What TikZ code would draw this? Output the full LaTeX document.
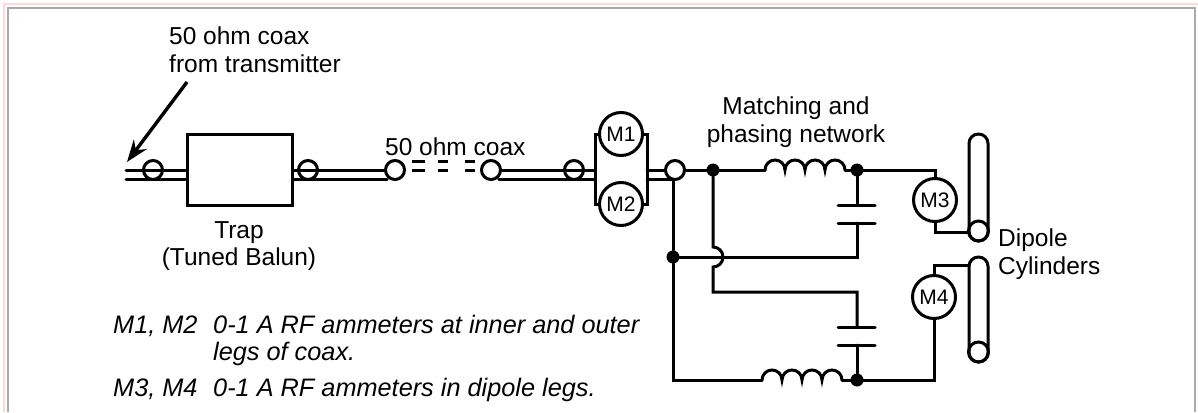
\documentclass[tikz,border=0pt]{standalone}
\usepackage{fontspec}
\setmainfont{Liberation Sans}
\usetikzlibrary{arrows.meta}

\definecolor{framepink}{RGB}{255,215,215}
\definecolor{framegray}{RGB}{170,170,170}

\begin{document}
\begin{tikzpicture}[x=1pt,y=-1pt,
    wire/.style={draw,line width=3pt,line cap=round,line join=miter},
    ring/.style={circle,draw,line width=3pt,minimum size=19pt,inner sep=0pt},
    mtr/.style={circle,draw,line width=3pt,minimum size=43pt,inner sep=0pt,
    font=\fontsize{21}{23}\selectfont},
    jdot/.style={circle,fill,minimum size=13pt,inner sep=0pt},
    lbl/.style={inner sep=0pt,align=center,font=\fontsize{24.5}{27.5}\selectfont},
    note/.style={inner sep=0pt,anchor=base west,font=\fontsize{25.3}{27}\selectfont\itshape}]
    \useasboundingbox (0,0) rectangle (1198,412);
    \fill[white] (0,0) rectangle (1198,412);
    \draw[framepink,line width=2.5pt] (4,412) -- (4,4) -- (1198,4);
    \draw[framegray,line width=2pt] (8,412) -- (8,8) -- (1195,8) -- (1195,412);

    % coax run
    \node[draw,line width=3pt,minimum width=105pt,minimum height=71pt,inner sep=0pt](trap) at (239.5,170) {};
    \node[ring](r1) at (153,170) {};
    \node[ring](r2) at (308,170) {};
    \node[ring](r3) at (395,170) {};
    \node[ring](r4) at (491,170) {};
    \node[ring](r5) at (574,170) {};
    \node[ring](r6) at (675,170) {};
    \coordinate (ca) at (126,170);
    \coordinate (cb) at (126,179);
    \coordinate (da) at (595,170);
    \coordinate (db) at (595,179);
    \coordinate (ea) at (647,170);
    \coordinate (eb) at (647,179);
    \draw[wire] (ca) -- (trap.west |- ca) (cb) -- (trap.west |- cb);
    \draw[wire] (trap.east |- ca) -- (r3.west) (trap.east |- cb) -- (r3.south west |- cb);
    \draw[wire] (r4.east) -- (da) (r4.south east |- cb) -- (db);
    \foreach \xa/\xb in {412/425,438/448,465/475}{
       \coordinate (ga) at (\xa,170);
       \coordinate (gb) at (\xb,170);
       \draw[wire,line cap=butt] (ga) -- (gb) ([yshift=9pt]ga) -- ([yshift=9pt]gb);
    }

    % meters on the legs of the coax
    \node[mtr](m1) at (621,134) {M1};
    \node[mtr](m2) at (621,204) {M2};
    \node[mtr](m3) at (935,200) {M3};
    \node[mtr](m4) at (934,297) {M4};
    \draw[wire] (m1.west) -| (da) |- (m2.west);
    \draw[wire] (m1.east) -| (ea) |- (m2.east);
    \draw[wire] (ea) -- (r6.west) (eb) -- (r6.south west |- eb);

    % matching and phasing network
    \node[jdot](j1) at (713,170) {};
    \node[jdot](j2) at (673,257) {};
    \node[jdot](j3) at (857,170) {};
    \node[jdot](j4) at (857,380) {};
    \coordinate (la) at (765,170);
    \coordinate (lb) at (845,170);
    \coordinate (lc) at (762,380);
    \coordinate (ld) at (842,380);
    \coordinate (ha) at (713,247);
    \coordinate (k1) at (713,292);
    \coordinate (k2) at (857,292);
    \coordinate (k3) at (857,257);
    \coordinate (p1) at (857,205);
    \coordinate (p2) at (857,223);
    \coordinate (p3) at (857,327);
    \coordinate (p4) at (857,345);
    \draw[wire] (r6.east) -- (j1) -- (la);
    \draw[wire] (lb) -- (j3) -| (m3.north);
    \draw[wire] (la) \foreach \i in {1,...,4}{ arc[start angle=180,end angle=0,radius=10pt] };
    \draw[wire] (lc) \foreach \i in {1,...,4}{ arc[start angle=180,end angle=0,radius=10pt] };
    \draw[wire] (r6.south west |- eb) -| (j2) |- (lc);
    \draw[wire] (ld) -- (j4) -| (m4.south);
    \draw[wire] (j2) -- (k3) -- (p2);
    \draw[wire] (j3) -- (p1) ++(-19,0) -- ++(37,0);
    \draw[wire] (p2) ++(-19,0) -- ++(37,0);
    \draw[wire] (j1) -- (ha) arc[start angle=90,end angle=-90,radius=10pt] -- (k1) -- (k2) -- (p3);
    \draw[wire] (p3) ++(-19,0) -- ++(37,0);
    \draw[wire] (p4) ++(-19,0) -- ++(37,0);
    \draw[wire] (p4) -- (j4);

    % dipole cylinders
    \node[draw,line width=3pt,rounded corners=9.4pt,minimum width=19pt,minimum height=107pt,inner sep=0pt](d1) at (978.5,187.5) {};
    \node[draw,line width=3pt,rounded corners=9.4pt,minimum width=19pt,minimum height=105pt,inner sep=0pt](d2) at (978.5,309.5) {};
    \node[ring,minimum size=20pt](e1) at (978.5,231) {};
    \node[ring,minimum size=20pt](e2) at (978.5,352) {};
    \coordinate (t1) at (969,232);
    \coordinate (t2) at (968,265);
    \draw[wire] (m3.south) |- (t1);
    \draw[wire] (m4.north) |- (t2);

    % labels
    \node[lbl,align=left,anchor=north west](t50) at (169,27) {50 ohm coax\\from transmitter};
    \node[lbl,anchor=base west](t50b) at (385,155) {50 ohm coax};
    \node[lbl](ttrap) at (239,246) {Trap\\(Tuned Balun)};
    \node[lbl](tnet) at (796,122) {Matching and\\phasing network};
    \node[lbl,align=left,anchor=north west](tdip) at (998,229) {Dipole\\Cylinders};
    \node[note](n1) at (113,333) {M1, M2};
    \node[note](n2) at (213,333) {0-1 A RF ammeters at inner and outer};
    \node[note](n3) at (213,360) {legs of coax.};
    \node[note](n4) at (113,396) {M3, M4};
    \node[note](n5) at (213,396) {0-1 A RF ammeters in dipole legs.};

    \coordinate (aa) at (187,82);
    \coordinate (ab) at (127,162);
    \draw[line width=3.4pt,-{Stealth[length=22pt,width=16pt]}] (aa) -- (ab);
\end{tikzpicture}
\end{document}
